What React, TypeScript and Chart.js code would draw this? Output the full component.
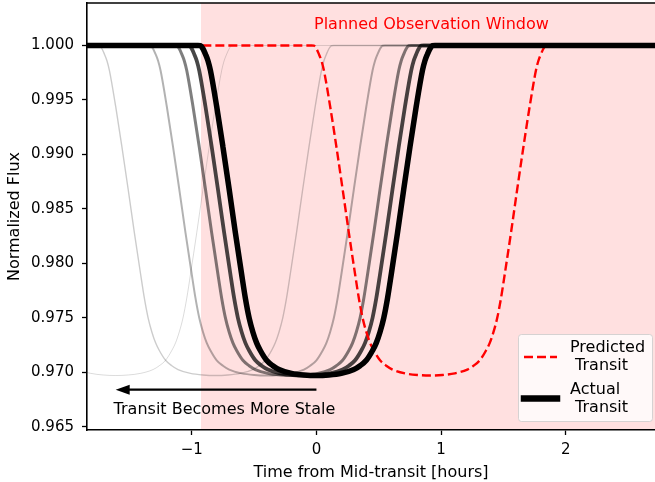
import React, { useEffect, useRef } from "react";
import { Chart, registerables } from "chart.js";

Chart.register(...registerables);

// Light curve of the actual transit (hours from mid-transit, normalized flux)
const transitHours = [
  -0.95, -0.93, -0.91, -0.89, -0.87, -0.85, -0.8, -0.75, -0.7, -0.65, -0.6, -0.57, -0.54, -0.51, -0.48, -0.45,
  -0.4, -0.35, -0.3, -0.2, -0.1, 0, 0.1, 0.2, 0.3, 0.35, 0.4, 0.45, 0.48, 0.51, 0.54, 0.57, 0.6, 0.65, 0.7,
  0.75, 0.8, 0.85, 0.87, 0.89, 0.91, 0.93, 0.95,
];
const transitFlux = [
  1.0, 0.99998, 0.9997, 0.9992, 0.9986, 0.9977, 0.9944, 0.9907, 0.9868, 0.9828, 0.979, 0.9768, 0.975, 0.9737,
  0.9727, 0.972, 0.9711, 0.9706, 0.97025, 0.9699, 0.96975, 0.9697, 0.96975, 0.9699, 0.97025, 0.9706, 0.9711,
  0.972, 0.9727, 0.9737, 0.975, 0.9768, 0.979, 0.9828, 0.9868, 0.9907, 0.9944, 0.9977, 0.9986, 0.9992, 0.9997,
  0.99998, 1.0,
];

// Offset (hours) of the predicted transit relative to the actual one
const predictedShift = 0.91;

// Older, staler ephemerides: offsets (hours), line colours and widths
const staleShifts = [-0.09, -0.19, -0.4, -0.81, -1.61];
const staleColors = ["rgba(0,0,0,0.72)", "rgba(0,0,0,0.5)", "rgba(0,0,0,0.3)", "rgba(0,0,0,0.2)", "rgba(0,0,0,0.14)"];
const staleWidths = [3.8, 3, 2, 1.4, 1];

const xTicks = [-1, 0, 1, 2];
const yTicks = [0.965, 0.97, 0.975, 0.98, 0.985, 0.99, 0.995, 1.0];
const xRange = [-1.84, 2.715];
const yRange = [0.9647, 1.0039];

// Planned observation window starts here and runs past the right edge
const windowStart = -0.926;

// "Transit Becomes More Stale" arrow
const arrowFromHours = 0;
const arrowToHours = -1.61;
const arrowFlux = 0.9684;

const FONT = "'DejaVu Sans', sans-serif";

function curvePoints(shift: number) {
  const pts = [{ x: -3, y: 1 }];
  transitHours.forEach((h, i) => pts.push({ x: h + shift, y: transitFlux[i] }));
  pts.push({ x: 4, y: 1 });
  return pts;
}

const decorPlugin = {
  id: "decor",
  beforeDatasetsDraw(chart: any) {
    const { ctx, chartArea: a, scales } = chart;
    const x0 = scales.x.getPixelForValue(windowStart);
    ctx.save();
    ctx.fillStyle = "rgba(255,0,0,0.12)";
    ctx.fillRect(x0, a.top, a.right - x0, a.bottom - a.top);
    ctx.restore();
  },
  afterDatasetsDraw(chart: any) {
    const { ctx, chartArea: a, scales } = chart;
    const xs = scales.x;
    const ys = scales.y;
    ctx.save();

    // window caption
    ctx.font = `16px ${FONT}`;
    ctx.fillStyle = "#ff0000";
    ctx.textAlign = "center";
    ctx.textBaseline = "alphabetic";
    ctx.fillText("Planned Observation Window", xs.getPixelForValue(0.922), ys.getPixelForValue(1.00153));

    // staleness arrow
    const ay = ys.getPixelForValue(arrowFlux);
    const ax0 = xs.getPixelForValue(arrowFromHours);
    const ax1 = xs.getPixelForValue(arrowToHours);
    const headLen = 14;
    const headHalf = 5;
    ctx.strokeStyle = "#000";
    ctx.fillStyle = "#000";
    ctx.lineWidth = 2.2;
    ctx.beginPath();
    ctx.moveTo(ax0, ay);
    ctx.lineTo(ax1 + headLen - 1, ay);
    ctx.stroke();
    ctx.beginPath();
    ctx.moveTo(ax1, ay);
    ctx.lineTo(ax1 + headLen, ay - headHalf);
    ctx.lineTo(ax1 + headLen, ay + headHalf);
    ctx.closePath();
    ctx.fill();

    ctx.font = `16px ${FONT}`;
    ctx.textAlign = "center";
    ctx.fillText("Transit Becomes More Stale", xs.getPixelForValue(-0.738), ys.getPixelForValue(0.96617));

    // legend
    const bw = 134;
    const bh = 87;
    const bx = a.right - 137;
    const by = a.bottom - 96;
    ctx.beginPath();
    ctx.roundRect(bx + 0.5, by + 0.5, bw, bh, 3);
    ctx.fillStyle = "rgba(255,255,255,0.8)";
    ctx.fill();
    ctx.strokeStyle = "rgba(204,204,204,0.8)";
    ctx.lineWidth = 1;
    ctx.stroke();

    ctx.strokeStyle = "#ff0000";
    ctx.lineWidth = 2.6;
    ctx.setLineDash([9, 4]);
    ctx.lineCap = "butt";
    ctx.beginPath();
    ctx.moveTo(bx + 6, by + 23);
    ctx.lineTo(bx + 39, by + 23);
    ctx.stroke();
    ctx.setLineDash([]);

    ctx.strokeStyle = "#000";
    ctx.lineWidth = 6.5;
    ctx.lineCap = "square";
    ctx.beginPath();
    ctx.moveTo(bx + 6, by + 64.5);
    ctx.lineTo(bx + 39, by + 64.5);
    ctx.stroke();

    ctx.fillStyle = "#000";
    ctx.font = `16px ${FONT}`;
    ctx.textAlign = "left";
    ctx.fillText("Predicted", bx + 52, by + 18);
    ctx.fillText(" Transit", bx + 52, by + 36);
    ctx.fillText("Actual", bx + 52, by + 60);
    ctx.fillText(" Transit", bx + 52, by + 78);
    ctx.restore();
  },
  afterDraw(chart: any) {
    const { ctx, chartArea: a } = chart;
    ctx.save();
    ctx.strokeStyle = "#000";
    ctx.lineWidth = 1.6;
    ctx.beginPath();
    ctx.moveTo(a.left, a.top);
    ctx.lineTo(a.right + 2, a.top);
    ctx.stroke();
    ctx.restore();
  },
};

export default function App() {
  const canvasRef = useRef<HTMLCanvasElement | null>(null);

  useEffect(() => {
    document.body.style.margin = "0";
    const canvas = canvasRef.current;
    if (!canvas) return;

    const staleSets = staleShifts.map((s, i) => ({
      label: `stale ${i + 1}`,
      data: curvePoints(s),
      borderColor: staleColors[i],
      borderWidth: staleWidths[i],
      order: 3 + staleShifts.length - i,
    }));

    const chart = new Chart(canvas, {
      type: "line",
      data: {
        datasets: [
          {
            label: "Actual Transit",
            data: curvePoints(0),
            borderColor: "#000000",
            borderWidth: 5.5,
            order: 1,
          },
          {
            label: "Predicted Transit",
            data: curvePoints(predictedShift),
            borderColor: "#ff0000",
            borderWidth: 2.4,
            borderDash: [9, 4],
            order: 2,
          },
          ...staleSets,
        ] as any,
      },
      options: {
        animation: false,
        responsive: false,
        devicePixelRatio: 1,
        parsing: false as any,
        layout: { padding: { top: 3, left: 0, right: 0, bottom: 0 } },
        elements: {
          point: { radius: 0, hoverRadius: 0 },
          line: { cubicInterpolationMode: "monotone", borderJoinStyle: "round", fill: false },
        },
        datasets: { line: { clip: 0 } as any },
        plugins: { legend: { display: false }, tooltip: { enabled: false } },
        events: [],
        scales: {
          x: {
            type: "linear",
            min: xRange[0],
            max: xRange[1],
            afterBuildTicks: (s: any) => {
              s.ticks = xTicks.map((v) => ({ value: v }));
            },
            afterFit: (s: any) => {
              s.height = 52;
              s.paddingLeft = 0;
              s.paddingRight = 0;
            },
            ticks: {
              color: "#000",
              font: { family: FONT, size: 15 },
              padding: 6,
              maxRotation: 0,
              autoSkip: false,
              callback: (v: any) => String(v).replace("-", "\u2212"),
            },
            grid: {
              display: true,
              drawOnChartArea: false,
              drawTicks: true,
              tickLength: 5,
              tickWidth: 1.3,
              tickColor: "#000",
            },
            border: { display: true, color: "#000", width: 1.6, z: 1 },
            title: {
              display: true,
              text: "Time from Mid-transit [hours]",
              color: "#000",
              font: { family: FONT, size: 16 },
              padding: { top: 0, bottom: 0 },
            },
          },
          y: {
            type: "linear",
            min: yRange[0],
            max: yRange[1],
            afterBuildTicks: (s: any) => {
              s.ticks = yTicks.map((v) => ({ value: v }));
            },
            afterFit: (s: any) => {
              s.width = 87;
              s.paddingTop = 0;
              s.paddingBottom = 0;
            },
            ticks: {
              color: "#000",
              font: { family: FONT, size: 15 },
              padding: 8,
              autoSkip: false,
              callback: (v: any) => Number(v).toFixed(3),
            },
            grid: {
              display: true,
              drawOnChartArea: false,
              drawTicks: true,
              tickLength: 5,
              tickWidth: 1.3,
              tickColor: "#000",
            },
            border: { display: true, color: "#000", width: 1.6, z: 1 },
            title: {
              display: true,
              text: "Normalized Flux",
              color: "#000",
              font: { family: FONT, size: 16 },
              padding: { top: 5, bottom: 0 },
            },
          },
        },
      },
      plugins: [decorPlugin],
    });

    return () => chart.destroy();
  }, []);

  return (
    <div style={{ width: 655, height: 482 }}>
      <canvas ref={canvasRef} width={655} height={482} style={{ display: "block" }} />
    </div>
  );
}
